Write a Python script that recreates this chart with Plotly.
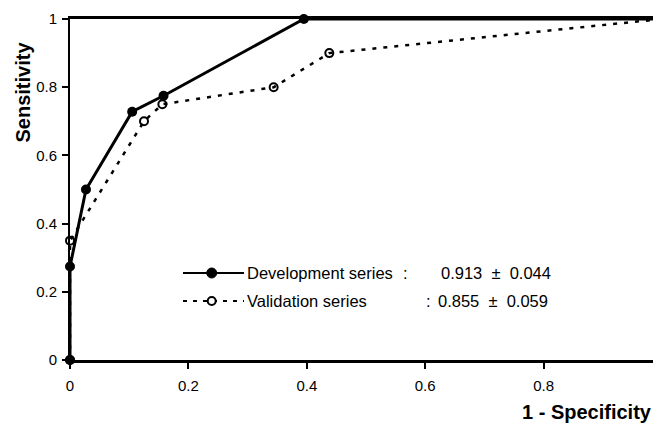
import plotly.graph_objects as go

# ---- data ----
dev_fpr = [0, 0, 0.027, 0.105, 0.158, 0.395, 1.0]
dev_sens = [0, 0.274, 0.50, 0.728, 0.775, 1.0, 1.0]
val_fpr = [0, 0, 0.125, 0.156, 0.344, 0.438, 1.0]
val_sens = [0, 0.35, 0.70, 0.75, 0.80, 0.90, 1.0]
tick_vals = [0, 0.2, 0.4, 0.6, 0.8, 1.0]
tick_text = ["0", "0.2", "0.4", "0.6", "0.8", "1"]
series_names = ["Development series", "Validation series"]
auc_text = ["0.913\u00a0\u00a0±\u00a0\u00a00.044", "0.855\u00a0\u00a0±\u00a0\u00a00.059"]

# ---- layout geometry (pixels) ----
W, H = 661, 424
OFF = 8  # page body margin offset
L, R, T, B = 62, 7, 11, 72
PW, PH = W - L - R, H - T - B


def px(s):
    return (s - OFF - L) / PW


def py(s):
    return (H - B - (s - OFF)) / PH


FONT = "Liberation Sans, Arial, Helvetica, sans-serif"

fig = go.Figure()

fig.add_trace(go.Scatter(
    x=val_fpr, y=val_sens, mode="lines+markers", name=series_names[1],
    line=dict(color="black", width=2.5, dash="4px,7px"),
    marker=dict(symbol="circle-open", size=8, color="black", line=dict(width=2, color="black")),
    cliponaxis=False, showlegend=False,
))
fig.add_trace(go.Scatter(
    x=dev_fpr, y=dev_sens, mode="lines+markers", name=series_names[0],
    line=dict(color="black", width=3),
    marker=dict(symbol="circle", size=10, color="black"),
    cliponaxis=False, showlegend=False,
))

axis_common = dict(
    range=[0, 1], tickvals=tick_vals, ticktext=tick_text,
    ticks="outside", ticklen=6, tickwidth=2, tickcolor="black",
    showline=True, linecolor="black", showgrid=False, zeroline=False,
    tickfont=dict(family=FONT, size=15, color="black"),
    automargin=False, fixedrange=True,
)

fig.update_layout(
    width=W, height=H, autosize=False,
    margin=dict(l=L, r=R, t=T, b=B, pad=0),
    paper_bgcolor="white", plot_bgcolor="white",
    font=dict(family=FONT, color="black"),
    xaxis=dict(**axis_common, linewidth=2.5, mirror=True, ticklabelstandoff=4),
    yaxis=dict(**axis_common, linewidth=2, ticklabelstandoff=2),
    showlegend=False,
)

annotations = [
    dict(text="<b>1 - Specificity</b>", x=px(654), y=py(412), xanchor="right", yanchor="middle",
         font=dict(size=20)),
    dict(text="<b>Sensitivity</b>", x=px(22.5), y=py(92), xanchor="center", yanchor="middle",
         textangle=-90, font=dict(size=20)),
]

rows_y = [273, 301]
colon_x = [401, 424]
value_x = [438.7, 436]
for i in range(2):
    annotations.append(dict(text=series_names[i], x=px(245), y=py(rows_y[i]), xanchor="left",
                            yanchor="middle", font=dict(size=16.5)))
    annotations.append(dict(text=":", x=px(colon_x[i]), y=py(rows_y[i]), xanchor="left",
                            yanchor="middle", font=dict(size=16.5)))
    annotations.append(dict(text=auc_text[i], x=px(value_x[i]), y=py(rows_y[i]), xanchor="left",
                            yanchor="middle", font=dict(size=16.5)))
for a in annotations:
    a.update(xref="paper", yref="paper", showarrow=False)
fig.update_layout(annotations=annotations)

# legend keys (custom, to mimic the long line samples)
shapes = [
    dict(type="line", xref="paper", yref="paper", x0=px(183), x1=px(244), y0=py(273), y1=py(273),
         line=dict(color="black", width=2)),
    dict(type="line", xref="paper", yref="paper", x0=px(183), x1=px(244), y0=py(301), y1=py(301),
         line=dict(color="black", width=2, dash="4px,6px")),
    dict(type="circle", xref="paper", yref="paper", xsizemode="pixel", ysizemode="pixel",
         xanchor=px(211.7), yanchor=py(273), x0=-5, x1=5, y0=-5, y1=5,
         fillcolor="black", line=dict(color="black", width=1)),
    dict(type="circle", xref="paper", yref="paper", xsizemode="pixel", ysizemode="pixel",
         xanchor=px(211.7), yanchor=py(301), x0=-4, x1=4, y0=-4, y1=4,
         fillcolor="white", line=dict(color="black", width=2)),
    dict(type="line", xref="paper", yref="paper", x0=px(659.5), x1=px(659.5), y0=0, y1=1,
         line=dict(color="#c8c8c8", width=1, dash="2px,3px")),
]
fig.update_layout(shapes=shapes)

fig.write_html("out.html")
